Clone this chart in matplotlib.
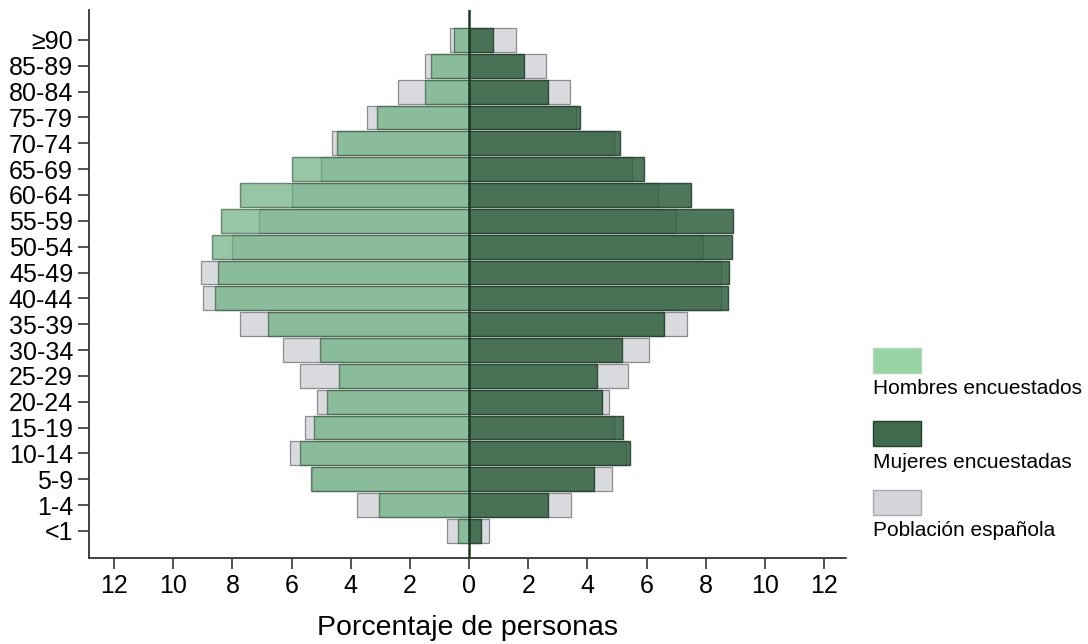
import matplotlib
matplotlib.use("Agg")
import matplotlib.pyplot as plt
from matplotlib.patches import Rectangle

plt.rcParams['font.family'] = ['Liberation Sans', 'DejaVu Sans']

# age groups, bottom to top
ages = ['<1', '1-4', '5-9', '10-14', '15-19', '20-24', '25-29', '30-34', '35-39',
        '40-44', '45-49', '50-54', '55-59', '60-64', '65-69', '70-74', '75-79',
        '80-84', '85-89', '≥90']

# % of surveyed men / women per age group
men = [0.38, 3.05, 5.35, 5.7, 5.25, 4.8, 4.4, 5.05, 6.8, 8.6,
       8.5, 8.7, 8.4, 7.75, 6.0, 4.45, 3.1, 1.5, 1.3, 0.5]
women = [0.4, 2.66, 4.23, 5.43, 5.21, 4.5, 4.32, 5.16, 6.6, 8.74,
         8.78, 8.9, 8.92, 7.49, 5.91, 5.09, 3.74, 2.66, 1.87, 0.82]

# % of Spanish population (men / women)
pop_men = [0.76, 3.8, 5.3, 6.05, 5.55, 5.15, 5.7, 6.3, 7.75, 9.0,
           9.05, 8.0, 7.1, 6.0, 5.0, 4.65, 3.45, 2.4, 1.5, 0.65]
pop_women = [0.68, 3.44, 4.84, 5.3, 4.9, 4.73, 5.38, 6.08, 7.35, 8.5,
             8.5, 7.9, 7.0, 6.4, 5.5, 4.9, 3.6, 3.41, 2.6, 1.58]

xticks = [-12, -10, -8, -6, -4, -2, 0, 2, 4, 6, 8, 10, 12]

c_men = '#6aae7e'
c_women = '#2f5f3f'
c_pop = '#d8dadd'

fig = plt.figure(figsize=(10.88, 6.44), dpi=100)
ax = fig.add_axes([0.0818, 0.1335, 0.696, 0.851])

y = list(range(len(ages)))
h = 0.92

# population bars behind
ax.barh(y, [-v for v in pop_men], height=h, color=c_pop, edgecolor='#8a8c90', linewidth=0.9, zorder=1)
ax.barh(y, pop_women, height=h, color=c_pop, edgecolor='#8a8c90', linewidth=0.9, zorder=1)

# surveyed bars on top, semi transparent
ax.barh(y, [-v for v in men], height=h, color=c_men, alpha=0.7, edgecolor='#3d5c46', linewidth=1.0, zorder=2)
ax.barh(y, women, height=h, color=c_women, alpha=0.85, edgecolor='#1f3a28', linewidth=1.0, zorder=2)
ax.axvline(0, color='#1c3a26', linewidth=1.8, zorder=3)

ax.set_xlim(-12.85, 12.75)
ax.set_ylim(-1.05, 20.16)
ax.set_yticks(y)
ax.set_yticklabels(ages, fontsize=18)
ax.set_xticks(xticks)
ax.set_xticklabels([str(abs(t)) for t in xticks], fontsize=18)
ax.set_xlabel('Porcentaje de personas', fontsize=20.5, labelpad=12)

for s in ['top', 'right']:
    ax.spines[s].set_visible(False)
for s in ['left', 'bottom']:
    ax.spines[s].set_linewidth(1.3)
    ax.spines[s].set_color('#333333')
ax.tick_params(axis='both', length=8, width=1.3, color='#444444', pad=3.5)

# legend: patch with label underneath
legend = [('Hombres encuestados', '#98d4a4', '#b0d8b8'),
          ('Mujeres encuestadas', '#3f6a4c', '#24402e'),
          ('Población española', '#d3d5da', '#a8aaae')]
W, H = 1088.0, 644.0
tops = [348, 421, 490]
for (lab, fc, ec), t in zip(legend, tops):
    fig.add_artist(Rectangle((873 / W, 1 - (t + 25) / H), 48 / W, 25 / H,
                             transform=fig.transFigure, facecolor=fc, edgecolor=ec, linewidth=1))
    fig.text(873 / W, 1 - (t + 41) / H, lab, fontsize=15, va='center', ha='left')

fig.savefig('out.png', dpi=100)
